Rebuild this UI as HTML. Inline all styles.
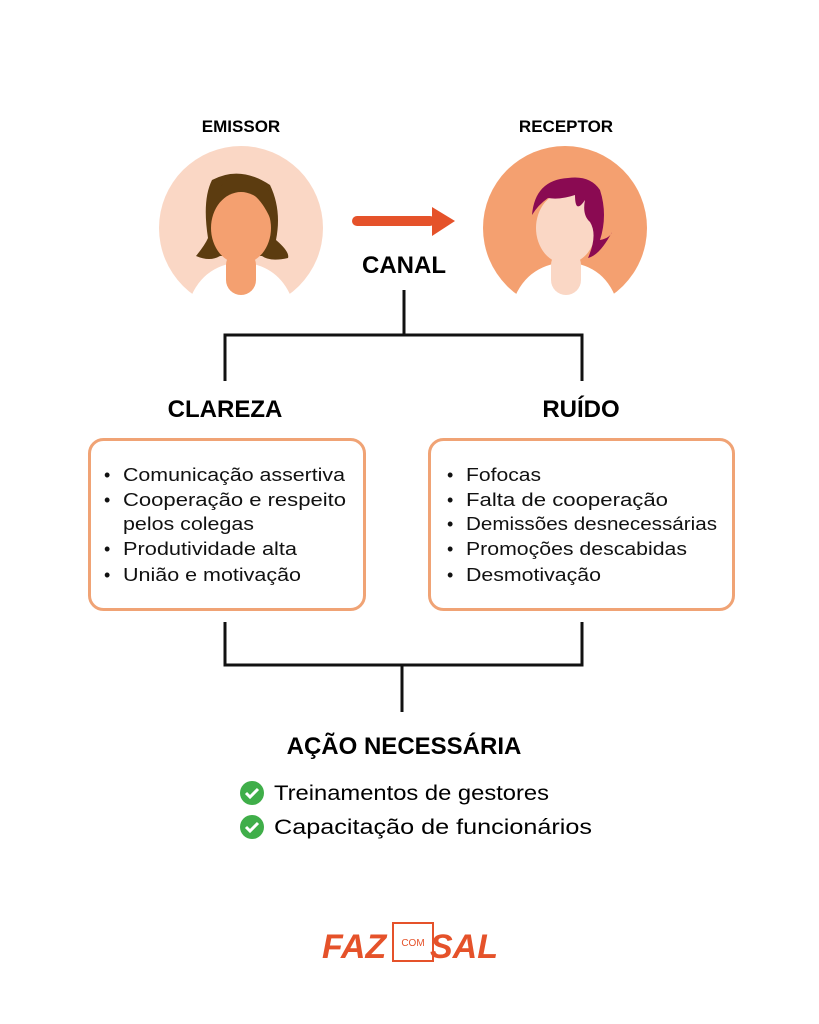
<!DOCTYPE html><html><head><meta charset="utf-8"><style>body{margin:0;background:#fff}svg{display:block}text{font-family:"Liberation Sans",sans-serif}</style></head><body>
<svg width="819" height="1024" viewBox="0 0 819 1024">
<rect width="819" height="1024" fill="#fff"/>
<text x="241" y="132" text-anchor="middle" font-size="17" font-weight="bold">EMISSOR</text>
<text x="566" y="132" text-anchor="middle" font-size="17" font-weight="bold">RECEPTOR</text>
<!-- emissor -->
<circle cx="241" cy="228" r="82" fill="#fad7c5"/>
<path d="M212 180 Q240 165 270 185 Q282 210 276 240 Q290 252 288 258 Q270 262 262 256 L220 256 Q210 262 196 256 Q205 245 208 238 Q202 200 212 180Z" fill="#5c3c10"/>
<path d="M188 305 Q200 265 241 262 Q282 265 294 305 Z" fill="#fff"/>
<rect x="150" y="297" width="190" height="20" fill="#fff"/>
<rect x="226" y="250" width="30" height="45" rx="15" fill="#f4a070"/>
<ellipse cx="241" cy="228" rx="30" ry="36" fill="#f4a070"/>
<path d="M212 215 Q225 185 250 192 Q262 200 270 218 L272 195 Q255 172 230 178 Q212 190 212 215Z" fill="#5c3c10"/>
<!-- receptor -->
<circle cx="565" cy="228" r="82" fill="#f4a070"/>
<path d="M512 305 Q524 265 566 262 Q607 265 618 305 Z" fill="#fff"/>
<rect x="475" y="297" width="190" height="20" fill="#fff"/>
<rect x="551" y="250" width="30" height="45" rx="15" fill="#fad7c5"/>
<ellipse cx="566" cy="228" rx="30" ry="36" fill="#fad7c5"/>
<path d="M532 215 Q535 180 568 178 Q590 175 600 190 Q608 215 600 240 Q610 238 612 232 Q600 255 588 258 Q598 235 590 222 Q582 215 585 200 Q575 215 575 195 Q560 200 548 198 Q538 205 532 215Z" fill="#8a0a52"/>
<!-- arrow -->
<line x1="357" y1="221" x2="430" y2="221" stroke="#e5522a" stroke-width="10" stroke-linecap="round"/>
<path d="M432 207 L455 221 L432 236 Z" fill="#e5522a"/>
<text x="404" y="273" text-anchor="middle" font-size="24" font-weight="bold">CANAL</text>
<g stroke="#111" stroke-width="3" fill="none">
<path d="M404 290 V335 M225 381 V335 H582 V381"/>
<path d="M225 622 V665 H582 V622 M402 665 V712"/>
</g>
<text x="225" y="417" text-anchor="middle" font-size="24" font-weight="bold">CLAREZA</text>
<text x="581" y="417" text-anchor="middle" font-size="24" font-weight="bold">RUÍDO</text>
<rect x="89.5" y="439.5" width="275" height="170" rx="14" fill="#fff" stroke="#f0a375" stroke-width="3"/>
<rect x="429.5" y="439.5" width="304" height="170" rx="14" fill="#fff" stroke="#f0a375" stroke-width="3"/>
<g font-size="18" fill="#111" lengthAdjust="spacingAndGlyphs">
<text x="104" y="481">•</text><text x="123" y="481" textLength="222" lengthAdjust="spacingAndGlyphs">Comunicação assertiva</text>
<text x="104" y="506">•</text><text x="123" y="506" textLength="223" lengthAdjust="spacingAndGlyphs">Cooperação e respeito</text>
<text x="123" y="530" textLength="131" lengthAdjust="spacingAndGlyphs">pelos colegas</text>
<text x="104" y="555">•</text><text x="123" y="555" textLength="174" lengthAdjust="spacingAndGlyphs">Produtividade alta</text>
<text x="104" y="581">•</text><text x="123" y="581" textLength="178" lengthAdjust="spacingAndGlyphs">União e motivação</text>
<text x="447" y="481">•</text><text x="466" y="481" textLength="75" lengthAdjust="spacingAndGlyphs">Fofocas</text>
<text x="447" y="506">•</text><text x="466" y="506" textLength="202" lengthAdjust="spacingAndGlyphs">Falta de cooperação</text>
<text x="447" y="530">•</text><text x="466" y="530" textLength="251" lengthAdjust="spacingAndGlyphs">Demissões desnecessárias</text>
<text x="447" y="555">•</text><text x="466" y="555" textLength="221" lengthAdjust="spacingAndGlyphs">Promoções descabidas</text>
<text x="447" y="581">•</text><text x="466" y="581" textLength="135" lengthAdjust="spacingAndGlyphs">Desmotivação</text>
</g>
<text x="404" y="754" text-anchor="middle" font-size="24" font-weight="bold">AÇÃO NECESSÁRIA</text>
<g>
<circle cx="252" cy="793" r="12" fill="#3fae49"/><path d="M246 793 l4 4 l8 -8" stroke="#fff" stroke-width="3" fill="none"/>
<circle cx="252" cy="827" r="12" fill="#3fae49"/><path d="M246 827 l4 4 l8 -8" stroke="#fff" stroke-width="3" fill="none"/>
</g>
<text x="274" y="800" font-size="21" textLength="275" lengthAdjust="spacingAndGlyphs">Treinamentos de gestores</text>
<text x="274" y="834" font-size="21" textLength="318" lengthAdjust="spacingAndGlyphs">Capacitação de funcionários</text>
<!-- logo -->
<g fill="#e5522a">
<text x="322" y="958" font-size="34" font-weight="bold" font-style="italic">FAZ</text>
<rect x="393" y="923" width="40" height="38" fill="none" stroke="#e5522a" stroke-width="2"/>
<text x="413" y="946" font-size="10" text-anchor="middle">COM</text>
<text x="430" y="958" font-size="34" font-weight="bold" font-style="italic">SAL</text>
</g>
</svg>
</body></html>
